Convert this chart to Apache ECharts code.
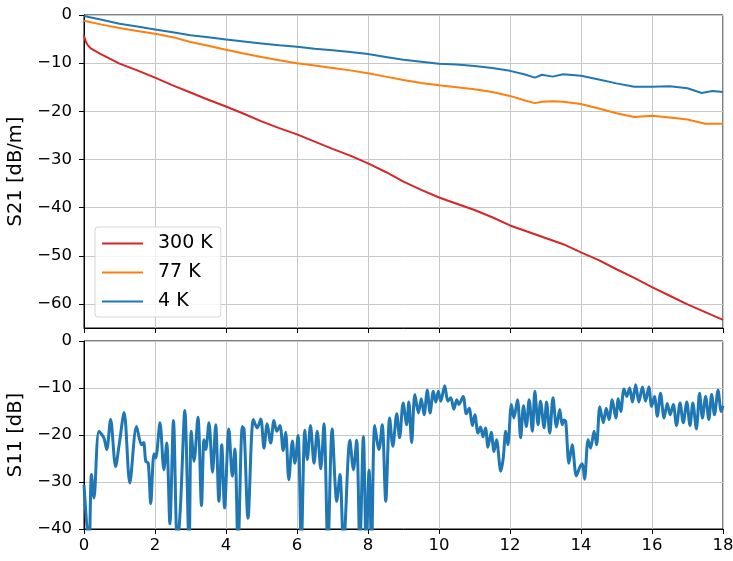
<!DOCTYPE html>
<html>
<head>
<meta charset="utf-8">
<script src="https://cdn.jsdelivr.net/npm/echarts@6/dist/echarts.min.js"></script>
<style>
html,body{margin:0;padding:0;background:#fff;overflow:hidden;}
#c{width:733px;height:561px;}
</style>
</head>
<body>
<div id="c"></div>
<script>
// ---- Data ----
const xTicks = [0, 2, 4, 6, 8, 10, 12, 14, 16, 18];
const s21Ticks = [-60, -50, -40, -30, -20, -10, 0];
const s11Ticks = [-40, -30, -20, -10, 0];

const freq300 = [0, 0.05, 0.1, 0.2, 0.45, 1.0, 1.5, 2.0, 2.5, 3.0, 3.5, 4.0, 4.5, 5.0, 5.5, 6.0, 6.5, 7.0, 7.5, 8.0, 8.5, 9.0, 9.5, 10.0, 10.5, 11.0, 11.5, 12.0, 12.5, 13.0, 13.5, 14.0, 14.5, 15.0, 15.5, 16.0, 16.5, 17.0, 17.5, 18.0];
const s21_300 = [-4.3, -5.5, -6.2, -7.0, -8.0, -10.1, -11.5, -13.0, -14.6, -16.1, -17.6, -19.0, -20.5, -22.1, -23.5, -24.8, -26.3, -27.8, -29.2, -30.8, -32.6, -34.6, -36.3, -37.9, -39.2, -40.5, -42.0, -43.7, -45.0, -46.3, -47.6, -49.3, -50.9, -52.8, -54.6, -56.5, -58.3, -60.1, -61.7, -63.3];

const freq77 = [0, 0.5, 1.0, 1.5, 2.0, 2.5, 3.0, 3.5, 4.0, 4.5, 5.0, 5.5, 6.0, 6.5, 7.0, 7.5, 8.0, 8.5, 9.0, 9.5, 10.0, 10.5, 11.0, 11.5, 12.0, 12.4, 12.7, 12.9, 13.2, 13.5, 14.0, 14.5, 15.0, 15.5, 16.0, 16.5, 17.0, 17.5, 18.0];
const s21_77 = [-1.2, -2.0, -2.7, -3.3, -3.9, -4.6, -5.6, -6.4, -7.2, -8.0, -8.7, -9.4, -10.0, -10.5, -11.0, -11.5, -12.1, -12.8, -13.5, -14.1, -14.6, -15.0, -15.4, -16.0, -16.8, -17.7, -18.3, -18.0, -17.9, -18.0, -18.5, -19.4, -20.4, -21.2, -20.9, -21.3, -21.7, -22.6, -22.6];

const freq4 = [0, 0.5, 1.0, 1.5, 2.0, 2.5, 3.0, 3.5, 4.0, 4.5, 5.0, 5.5, 6.0, 6.5, 7.0, 7.5, 8.0, 8.5, 9.0, 9.5, 10.0, 10.5, 11.0, 11.5, 12.0, 12.4, 12.7, 12.9, 13.2, 13.5, 14.0, 14.5, 15.0, 15.5, 16.0, 16.5, 17.0, 17.4, 17.7, 18.0];
const s21_4 = [-0.2, -1.0, -1.8, -2.4, -3.0, -3.6, -4.2, -4.6, -5.1, -5.5, -5.9, -6.3, -6.6, -7.0, -7.3, -7.7, -8.1, -8.7, -9.3, -9.7, -10.1, -10.3, -10.6, -11.0, -11.6, -12.3, -13.0, -12.4, -12.8, -12.3, -12.6, -13.4, -14.2, -14.9, -14.9, -14.8, -15.2, -16.2, -15.8, -16.0];

const freqS11 = [0.0, 0.14, 0.21, 0.28, 0.42, 0.56, 0.64, 0.75, 0.89, 0.99, 1.13, 1.29, 1.48, 1.62, 1.68, 1.74, 1.81, 1.88, 1.97, 2.02, 2.14, 2.25, 2.33, 2.42, 2.52, 2.63, 2.72, 2.84, 2.96, 3.02, 3.10, 3.21, 3.31, 3.38, 3.43, 3.52, 3.62, 3.71, 3.80, 3.88, 3.96, 4.08, 4.18, 4.25, 4.34, 4.46, 4.51, 4.62, 4.77, 4.88, 4.98, 5.07, 5.16, 5.26, 5.35, 5.43, 5.52, 5.61, 5.68, 5.77, 5.87, 5.94, 6.03, 6.12, 6.22, 6.29, 6.38, 6.48, 6.57, 6.67, 6.76, 6.87, 6.99, 7.12, 7.21, 7.31, 7.49, 7.59, 7.68, 7.77, 7.87, 7.95, 8.03, 8.10, 8.19, 8.31, 8.40, 8.50, 8.61, 8.70, 8.81, 8.89, 8.99, 9.09, 9.15, 9.23, 9.32, 9.42, 9.50, 9.58, 9.67, 9.75, 9.84, 9.91, 9.98, 10.05, 10.16, 10.25, 10.33, 10.42, 10.50, 10.56, 10.68, 10.77, 10.85, 10.94, 11.01, 11.10, 11.17, 11.24, 11.31, 11.38, 11.47, 11.55, 11.62, 11.74, 11.81, 11.88, 11.94, 12.04, 12.11, 12.21, 12.30, 12.38, 12.46, 12.54, 12.63, 12.70, 12.79, 12.86, 12.96, 13.03, 13.12, 13.21, 13.31, 13.40, 13.47, 13.52, 13.57, 13.66, 13.75, 13.87, 13.97, 14.04, 14.10, 14.20, 14.27, 14.37, 14.44, 14.53, 14.63, 14.71, 14.79, 14.88, 14.98, 15.05, 15.12, 15.21, 15.29, 15.37, 15.45, 15.54, 15.63, 15.73, 15.82, 15.91, 15.99, 16.07, 16.15, 16.24, 16.34, 16.43, 16.51, 16.60, 16.69, 16.79, 16.88, 16.98, 17.07, 17.15, 17.25, 17.34, 17.42, 17.51, 17.60, 17.68, 17.76, 17.86, 17.95, 18.0];
const s11 = [-30.6, -44, -28.4, -33.4, -19.2, -20.6, -23.1, -16.7, -26.7, -22.1, -15.2, -30.2, -18.2, -22.1, -21.6, -25.6, -26.0, -34.6, -24.0, -24.9, -17.4, -27.4, -21.7, -38.9, -16.9, -44, -34.8, -14.8, -44, -19.2, -25.6, -16.2, -35.0, -21.0, -23.1, -17.4, -27.9, -17.8, -34.1, -22.1, -35.5, -18.7, -28.8, -23.0, -44, -18.2, -18.8, -37.7, -16.7, -18.5, -16.6, -22.8, -17.6, -21.7, -16.9, -19.2, -18.0, -23.3, -19.4, -29.5, -21.3, -26.0, -20.1, -44, -19.0, -25.2, -18.0, -26.0, -19.2, -27.2, -17.6, -44, -18.7, -34.1, -28.4, -44, -21.1, -27.4, -21.1, -44, -20.3, -44, -27.5, -44, -18.0, -23.1, -17.8, -34.1, -16.4, -22.4, -15.5, -20.6, -13.2, -17.8, -13.0, -21.6, -11.4, -15.3, -12.3, -15.7, -10.5, -15.3, -10.7, -13.0, -10.7, -12.8, -9.5, -12.8, -12.1, -14.5, -12.5, -13.5, -11.8, -15.5, -14.3, -18.0, -15.7, -19.6, -18.3, -20.4, -18.5, -22.6, -19.4, -23.5, -21.0, -27.7, -24.9, -19.2, -22.1, -13.5, -16.4, -12.5, -20.6, -13.8, -18.2, -12.5, -19.2, -10.7, -17.8, -12.8, -18.5, -13.0, -19.6, -12.1, -18.3, -14.6, -17.8, -16.8, -17.1, -26.0, -22.1, -28.7, -26.8, -26.1, -29.4, -21.0, -22.8, -19.2, -22.1, -14.0, -17.4, -14.3, -16.7, -12.5, -16.4, -12.3, -15.0, -10.2, -11.8, -10.0, -13.0, -9.3, -13.0, -9.8, -12.8, -9.8, -13.9, -11.8, -16.0, -11.1, -16.4, -13.3, -15.7, -13.5, -18.0, -13.2, -17.4, -13.0, -18.0, -13.2, -18.7, -11.1, -16.4, -11.8, -16.7, -11.4, -15.7, -10.5, -15.0, -13.8];

const names = ['300 K', '77 K', '4 K'];
const colors = ['#d62728', '#ff7f0e', '#1f77b4'];

// ---- Build ----
const zip = (xs, ys) => xs.map((x, i) => [x, ys[i]]);
const FONT = 'DejaVu Sans';
const minus = v => String(v).replace('-', '\u2212');
const gridLine = { show: true, lineStyle: { color: '#c8c8c8', width: 1 } };
const axLine = { show: true, onZero: false, lineStyle: { color: '#000', width: 1 } };
const tick = { show: true, inside: false, length: 5, lineStyle: { color: '#000', width: 1 } };
const lbl = { color: '#000', fontFamily: FONT, fontSize: 16.5, formatter: minus };
const nameStyle = { color: '#000', fontFamily: FONT, fontSize: 19.5 };

const chart = echarts.init(document.getElementById('c'), null, { renderer: 'canvas' });
chart.setOption({
  animation: false,
  backgroundColor: '#fff',
  grid: [
    { left: 84, top: 15, width: 639, height: 313, containLabel: false, outerBoundsMode: 'none',
      show: true, borderColor: '#000', borderWidth: 1, backgroundColor: 'transparent' },
    { left: 84, top: 341, width: 639, height: 188, containLabel: false, outerBoundsMode: 'none',
      show: true, borderColor: '#000', borderWidth: 1, backgroundColor: 'transparent' }
  ],
  legend: {
    data: names,
    orient: 'vertical',
    left: 95, top: 227,
    padding: [7, 8, 6, 7],
    itemGap: 10,
    itemWidth: 41, itemHeight: 2,
    icon: 'rect',
    selectedMode: false,
    backgroundColor: 'rgba(255,255,255,0.8)',
    borderColor: '#d6d6d6', borderWidth: 1, borderRadius: 3,
    textStyle: { color: '#000', fontFamily: FONT, fontSize: 19, padding: [0, 0, 0, 10] }
  },
  xAxis: [
    { type: 'value', gridIndex: 0, min: 0, max: 18, interval: 2,
      axisLine: axLine, axisTick: tick, axisLabel: { show: false }, splitLine: gridLine },
    { type: 'value', gridIndex: 1, min: 0, max: 18, interval: 2,
      axisLine: axLine, axisTick: tick, axisLabel: Object.assign({}, lbl, { margin: 8 }), splitLine: gridLine }
  ],
  yAxis: [
    { type: 'value', gridIndex: 0, min: -65, max: 0, splitNumber: 6,
      name: 'S21 [dB/m]', nameLocation: 'middle', nameGap: 57, nameRotate: 90,
      nameTextStyle: nameStyle,
      axisLine: axLine,
      axisTick: Object.assign({}, tick, { customValues: s21Ticks }),
      axisLabel: Object.assign({}, lbl, { margin: 12, customValues: s21Ticks }),
      splitLine: gridLine },
    { type: 'value', gridIndex: 1, min: -40, max: 0, interval: 10,
      name: 'S11 [dB]', nameLocation: 'middle', nameGap: 57, nameRotate: 90,
      nameTextStyle: nameStyle,
      axisLine: axLine, axisTick: tick,
      axisLabel: Object.assign({}, lbl, { margin: 12 }),
      splitLine: gridLine }
  ],
  series: [
    { name: names[0], type: 'line', xAxisIndex: 0, yAxisIndex: 0, data: zip(freq300, s21_300),
      showSymbol: false, color: colors[0], lineStyle: { width: 2, color: colors[0] } },
    { name: names[1], type: 'line', xAxisIndex: 0, yAxisIndex: 0, data: zip(freq77, s21_77),
      showSymbol: false, color: colors[1], lineStyle: { width: 2, color: colors[1] } },
    { name: names[2], type: 'line', xAxisIndex: 0, yAxisIndex: 0, data: zip(freq4, s21_4),
      showSymbol: false, color: colors[2], lineStyle: { width: 2, color: colors[2] } },
    { name: 'S11', type: 'line', xAxisIndex: 1, yAxisIndex: 1, data: zip(freqS11, s11),
      showSymbol: false, smooth: 0.3, color: colors[2], lineStyle: { width: 3, color: colors[2] } }
  ]
});
</script>
</body>
</html>
